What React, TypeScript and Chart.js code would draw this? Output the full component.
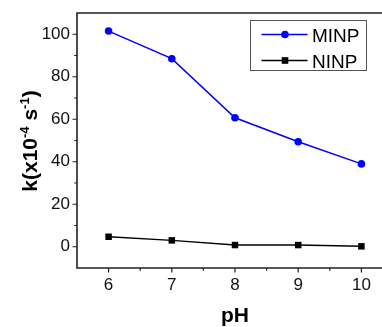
import React, { useEffect, useRef } from 'react';
import { Chart, registerables } from 'chart.js';

Chart.register(...registerables);

const phValues = [6, 7, 8, 9, 10];
const minpValues = [101.5, 88.5, 60.7, 49.4, 39.0];
const ninpValues = [4.7, 3.0, 0.8, 0.8, 0.2];
const seriesLabels = ['MINP', 'NINP'];
const xTicks = [6, 7, 8, 9, 10];
const yTicks = [0, 20, 40, 60, 80, 100];
const xRange = [5.5, 10.5];
const yRange = [-10, 110];
const xTitle = 'pH';
const yTitleParts = [
  { text: 'k(x10', sup: false },
  { text: '-4', sup: true },
  { text: ' s', sup: false },
  { text: '-1', sup: true },
  { text: ')', sup: false },
];

const FONT = '"Liberation Sans", Arial, sans-serif';
const AXIS_COLOR = '#222';
const SERIES_COLORS = ['#0000ff', '#000000'];

function minorValues(major: number[], lo: number, hi: number) {
  const step = major[1] - major[0];
  const out: number[] = [];
  for (let v = major[0] - step / 2; v < hi; v += step) {
    if (v > lo && v < hi) out.push(v);
  }
  return out;
}

const framePlugin = {
  id: 'framePlugin',
  afterDraw(chart: any) {
    const ctx: CanvasRenderingContext2D = chart.ctx;
    const { left, right, top, bottom } = chart.chartArea;
    const xs = chart.scales.x;
    const ys = chart.scales.y;
    ctx.save();
    // axis lines
    ctx.strokeStyle = AXIS_COLOR;
    ctx.lineWidth = 1.6;
    ctx.beginPath();
    ctx.moveTo(left, top);
    ctx.lineTo(left, bottom);
    ctx.moveTo(left - 0.8, bottom);
    ctx.lineTo(right, bottom);
    ctx.moveTo(left - 0.8, top);
    ctx.lineTo(right, top);
    ctx.stroke();
    // ticks
    ctx.lineWidth = 1.2;
    ctx.beginPath();
    for (const v of xTicks) {
      const px = xs.getPixelForValue(v);
      ctx.moveTo(px, bottom);
      ctx.lineTo(px, bottom + 4.5);
    }
    for (const v of minorValues(xTicks, xRange[0], xRange[1])) {
      const px = xs.getPixelForValue(v);
      ctx.moveTo(px, bottom);
      ctx.lineTo(px, bottom + 2.8);
    }
    for (const v of yTicks) {
      const py = ys.getPixelForValue(v);
      ctx.moveTo(left, py);
      ctx.lineTo(left - 4.5, py);
    }
    for (const v of minorValues(yTicks, yRange[0], yRange[1])) {
      const py = ys.getPixelForValue(v);
      ctx.moveTo(left, py);
      ctx.lineTo(left - 2.8, py);
    }
    ctx.stroke();

    // x title
    ctx.fillStyle = '#000';
    ctx.font = `bold 21px ${FONT}`;
    ctx.textAlign = 'center';
    ctx.textBaseline = 'alphabetic';
    ctx.fillText(xTitle, xs.getPixelForValue(8), 322);

    // y title with superscripts
    ctx.save();
    ctx.translate(37, 141);
    ctx.rotate(-Math.PI / 2);
    ctx.textAlign = 'left';
    const mainFont = `bold 21px ${FONT}`;
    const supFont = `bold 13px ${FONT}`;
    let total = 0;
    const widths = yTitleParts.map((p) => {
      ctx.font = p.sup ? supFont : mainFont;
      const w = ctx.measureText(p.text).width;
      total += w;
      return w;
    });
    let cx = -total / 2;
    yTitleParts.forEach((p, i) => {
      ctx.font = p.sup ? supFont : mainFont;
      ctx.fillText(p.text, cx, p.sup ? -8 : 0);
      cx += widths[i];
    });
    ctx.restore();

    // legend
    const boxX = 250.5, boxY = 20.5, boxW = 116, boxH = 50;
    ctx.fillStyle = '#fff';
    ctx.fillRect(boxX, boxY, boxW, boxH);
    ctx.strokeStyle = '#555';
    ctx.lineWidth = 1;
    ctx.strokeRect(boxX, boxY, boxW, boxH);
    const rowY = [34.5, 60.5];
    chart.data.datasets.forEach((ds: any, i: number) => {
      const y = rowY[i];
      ctx.strokeStyle = ds.borderColor;
      ctx.lineWidth = 1.5;
      ctx.beginPath();
      ctx.moveTo(261.5, y);
      ctx.lineTo(307.5, y);
      ctx.stroke();
      ctx.fillStyle = ds.backgroundColor;
      if (ds.pointStyle === 'rect') {
        ctx.fillRect(285 - 3.3, y - 3.3, 6.6, 6.6);
      } else {
        ctx.beginPath();
        ctx.arc(285, y, 3.8, 0, Math.PI * 2);
        ctx.fill();
      }
      ctx.fillStyle = '#000';
      ctx.font = `19px ${FONT}`;
      ctx.textAlign = 'left';
      ctx.textBaseline = 'alphabetic';
      ctx.fillText(ds.label, 312, y + 7);
    });
    ctx.restore();
  },
};

export default function App() {
  const ref = useRef<HTMLCanvasElement>(null);
  useEffect(() => {
    const canvas = ref.current!;
    const chart = new Chart(canvas, {
      type: 'line',
      data: {
        datasets: [
          {
            label: seriesLabels[0],
            data: phValues.map((x, i) => ({ x, y: minpValues[i] })),
            borderColor: SERIES_COLORS[0],
            backgroundColor: SERIES_COLORS[0],
            borderWidth: 1.5,
            pointStyle: 'circle',
            pointRadius: 3.8,
            pointBorderWidth: 0,
            tension: 0,
          },
          {
            label: seriesLabels[1],
            data: phValues.map((x, i) => ({ x, y: ninpValues[i] })),
            borderColor: SERIES_COLORS[1],
            backgroundColor: SERIES_COLORS[1],
            borderWidth: 1.5,
            pointStyle: 'rect',
            pointRadius: 4.6,
            pointBorderWidth: 0,
            tension: 0,
          },
        ],
      },
      options: {
        responsive: false,
        animation: false,
        devicePixelRatio: 1,
        layout: { padding: { top: 13, right: 7, left: 0, bottom: 0 } },
        plugins: { legend: { display: false }, tooltip: { enabled: false } },
        scales: {
          x: {
            type: 'linear',
            min: xRange[0],
            max: xRange[1],
            grid: { display: false, drawTicks: false },
            border: { display: false },
            ticks: { font: { family: FONT, size: 17 }, color: '#111', padding: 7, maxRotation: 0, autoSkip: false },
            afterBuildTicks: (s: any) => {
              s.ticks = xTicks.map((v) => ({ value: v }));
            },
            afterFit: (s: any) => {
              s.height = 59;
              s.paddingLeft = 0;
              s.paddingRight = 0;
            },
          },
          y: {
            type: 'linear',
            min: yRange[0],
            max: yRange[1],
            grid: { display: false, drawTicks: false },
            border: { display: false },
            ticks: { font: { family: FONT, size: 17 }, color: '#111', padding: 7, autoSkip: false },
            afterBuildTicks: (s: any) => {
              s.ticks = yTicks.map((v) => ({ value: v }));
            },
            afterFit: (s: any) => {
              s.width = 77;
              s.paddingTop = 0;
              s.paddingBottom = 0;
            },
          },
        },
      } as any,
      plugins: [framePlugin],
    });
    return () => chart.destroy();
  }, []);
  return (
    <div style={{ position: 'fixed', left: 0, top: 0, width: 382, height: 327, overflow: 'hidden', background: '#fff' }}>
      <canvas ref={ref} width={400} height={327} style={{ display: 'block' }} />
    </div>
  );
}
